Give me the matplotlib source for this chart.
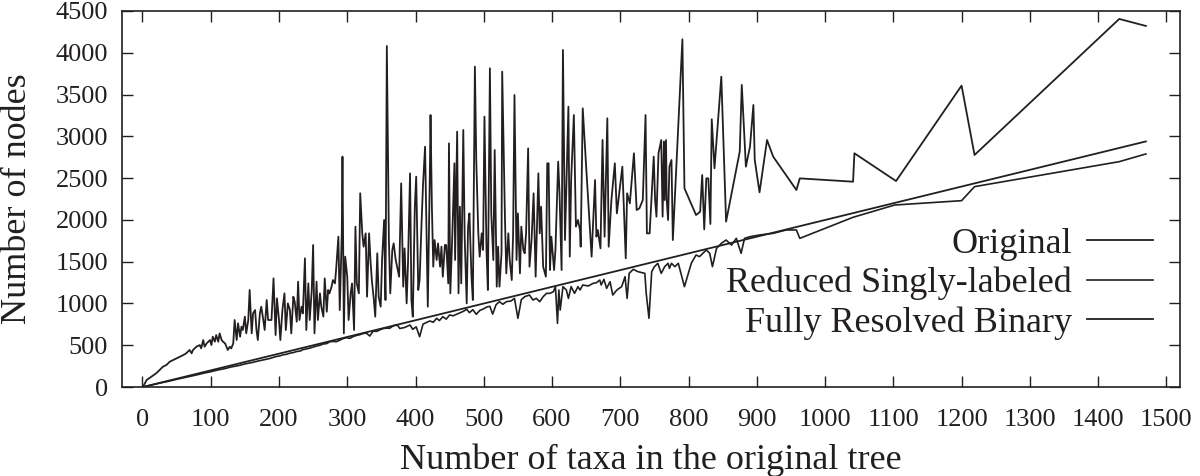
import matplotlib
matplotlib.use("Agg")
import matplotlib.pyplot as plt

plt.rcParams.update({'font.family': 'Liberation Serif', 'font.size': 19})

ink = "#231f20"

# Original trees: (taxa, nodes)
orig_x = [1, 6, 13, 20, 25, 30, 35, 40, 45, 50, 55, 60, 64, 69, 72, 74, 79, 84, 86, 89, 91, 94, 99, 101, 103, 106,
          108, 111, 113, 116, 118, 121, 123, 125, 128, 130, 133, 135, 138, 140, 143, 145, 147, 150, 152, 155, 157,
          160, 162, 165, 167, 169, 172, 174, 177, 179, 182, 184,
          189, 192, 195, 197, 200, 202, 205, 208, 210, 213, 216, 218, 221, 223, 226, 228, 230, 233, 235, 238, 240,
          243, 245, 248, 250, 252, 255, 257, 260, 262, 265, 267, 270, 272, 274, 277, 279, 282, 284, 287, 289, 292,
          293, 295, 297, 300, 302, 305, 307, 310, 312, 314, 317, 319, 322, 324, 327, 329, 332, 334, 336, 339, 341,
          344, 346, 349, 351, 354, 356, 358, 361, 363, 366, 368, 371, 373, 376,
          379, 382, 384, 387, 389, 392, 394, 396, 399, 401, 404, 406, 409, 411, 414, 416, 418, 421, 422, 424, 426,
          428, 431, 433, 436, 438, 440, 443, 445, 448, 449, 451, 454, 457, 458, 461, 463, 465, 467, 470, 472, 475,
          477, 479, 482, 484, 487, 489, 492, 494, 497, 499, 501, 504, 506, 509, 511, 514, 516, 519, 521, 523, 526,
          527, 531, 533, 536, 538, 541, 543, 545, 548, 550, 553, 555, 558, 560, 562, 565,
          567, 570, 573, 576, 580, 582, 584, 587, 591, 593, 595, 597, 599, 603, 605, 609, 611, 614, 616, 619, 624,
          626, 628, 632, 635, 638, 641, 642, 645, 650, 658, 663, 665, 667, 671, 674, 677, 681, 683, 687, 692, 695,
          703, 708, 710, 714, 720, 724, 728, 733, 737, 739, 743, 749, 751, 753, 756, 758,
          760, 762, 764, 765, 767, 768, 770, 772, 775, 777, 791, 794, 811, 817, 820, 823, 826, 829, 832, 834, 838,
          848, 855, 875, 878, 884, 890, 895, 897, 904, 915, 924, 958, 963, 1041, 1043, 1104, 1200, 1219, 1431, 1470]
orig_y = [5, 83, 123, 163, 203, 243, 263, 303, 323, 343, 363, 383, 403, 443, 403, 443, 482, 502, 462, 562, 482, 522,
          562, 502, 602, 542, 622, 542, 642, 562, 542, 522, 482, 443, 482, 462, 522, 802, 562, 762, 602, 722, 682,
          842, 642, 802, 1161, 642, 881, 921, 682, 562, 881, 961, 802, 682, 1041, 802,
          802, 1300, 622, 1061, 802, 562, 921, 1121, 682, 1001, 921, 642, 1081, 1021, 782, 1260, 802, 961, 881,
          1540, 682, 1240, 802, 1161, 1699, 642, 1260, 802, 1121, 961, 842, 1300, 901, 1161, 1121, 1201, 1280,
          1240, 1440, 1799, 921, 1839, 2757, 642, 1560, 1320, 802, 1121, 1240, 682, 1919, 1240, 1121, 2318, 1839,
          1679, 1839, 1081, 1839, 1520, 1280, 1041, 842, 1600, 1081, 961, 1520, 1999, 1041, 4081, 1759, 1121, 1640,
          1719, 1520, 1440, 1320,
          2437, 1201, 1659, 1001, 1480, 2557, 1041, 842, 2158, 2517, 1161, 1280, 1999, 2418, 2876, 1919, 961, 2557,
          3255, 2158, 1440, 1759, 1520, 1719, 1440, 1679, 1320, 1699, 1699, 1240, 2916, 1121, 1839, 2677, 1520,
          3056, 1121, 2158, 1240, 3076, 1799, 1001, 1919, 2078, 1320, 1041, 3834, 2717, 1839, 1560, 1839, 1640,
          3236, 1640, 1161, 3814, 2078, 1520, 2836, 1201, 1679, 1201, 1600, 3774, 2039, 1360, 1839, 1520, 1280,
          1839, 3495, 1520, 2078, 1360, 1919, 1640, 1600, 1839, 2856,
          1440, 1759, 2318, 1320, 2557, 1839, 2158, 1440, 1320, 2677, 2677, 1400, 1799, 1400, 1640, 2697, 2318,
          1400, 4034, 1759, 3355, 1560, 2477, 3255, 1919, 1999, 1879, 1679, 3335, 2637, 1560, 2477, 1799, 1879,
          1659, 2956, 1799, 3216, 1679, 2238, 2677, 2078, 2637, 1540, 2318, 2198, 2797, 2118, 2138, 2238, 3255,
          1839, 1839, 2757, 2238, 2039, 2797, 2876,
          2956, 2039, 2936, 2238, 2956, 2238, 1999, 2637, 2717, 1759, 4161, 2378, 2058, 2098, 2537, 1887, 2497,
          2497, 1951, 3204, 2617, 3714, 1979, 2817, 3615, 2637, 2876, 3375, 2717, 2330, 2956, 2757, 2358, 2497,
          2457, 2797, 2465, 3607, 2777, 4405, 4321]

# Reduced singly-labeled trees
red_x = [1, 10, 20, 30, 40, 50, 60, 70, 80, 90, 100, 110, 120, 130, 140, 150, 160, 170, 180,
         186, 191, 196, 201, 206, 211, 216, 221, 226, 231, 235, 240, 245, 250, 255, 260, 265, 270, 274, 279, 284,
         289, 294, 299, 304, 309, 314, 318, 323, 328, 333, 338, 343, 348, 353, 358, 362, 366, 370, 374,
         377, 384, 392, 396, 401, 406, 411, 416, 421, 426, 431, 435, 440, 445, 450, 455, 460, 465, 470, 475, 479,
         484, 489, 494, 501, 505, 509, 513, 518, 523, 528, 533, 540, 545, 550, 555, 560, 567,
         572, 577, 582, 587, 592, 597, 602, 605, 608, 610, 612, 616, 621, 624, 628, 633, 638, 641, 645, 653, 660,
         665, 670, 672, 676, 680, 685, 689, 695, 702, 707, 710, 713, 719, 726, 736, 738, 742, 746, 750, 755, 760,
         765, 770, 772, 775, 780, 785, 794, 804, 811, 816, 821, 826, 831, 835, 841, 848, 855, 863, 870, 877, 882,
         890, 904, 924, 943, 958, 963, 1041, 1102, 1200, 1219, 1431, 1470]
red_y = [1, 17, 36, 55, 72, 92, 110, 128, 146, 166, 183, 203, 219, 240, 255, 276, 292, 312, 330,
         340, 352, 365, 372, 385, 392, 405, 412, 425, 430, 448, 455, 465, 478, 490, 500, 515, 520, 540, 546, 542,
         560, 580, 590, 582, 605, 618, 625, 640, 645, 610, 670, 665, 685, 700, 705, 702, 725, 740, 735,
         700, 712, 742, 690, 720, 602, 752, 772, 790, 775, 822, 795, 842, 812, 862, 852, 870, 888, 905, 930, 890,
         925, 870, 915, 941, 960, 965, 872, 985, 1021, 990, 1021, 1030, 1061, 822, 1045, 1081, 1101,
         1041, 1061, 1021, 1081, 1121, 1121, 1141, 1201, 762, 1161, 921, 1201, 1161, 1061, 1201, 1121, 1201, 1161,
         1221, 1209, 1240, 1248, 1280, 1221, 1288, 1181, 1260, 1101, 1161, 1201, 1320, 1061, 1360, 1408, 1380,
         1360, 1121, 822, 1380, 1440, 1480, 1360, 1440, 1480, 1420, 1480, 1440, 1480, 1201, 1480, 1580, 1560,
         1600, 1640, 1600, 1440, 1659, 1719, 1759, 1699, 1779, 1600, 1779, 1799, 1819, 1839, 1879, 1879, 1779,
         2031, 2178, 2230, 2398, 2697, 2789]

# Fully resolved binary trees
bin_x = [1, 500, 1000, 1470]
bin_y = [1, 999, 1999, 2939]

fig = plt.figure(figsize=(12, 4.76), dpi=100)
ax = fig.add_axes([122 / 1200, 89 / 476, 1058 / 1200, 376 / 476])

ax.plot(orig_x, orig_y, '-', color=ink, lw=1.3, label="Original")
ax.plot(red_x, red_y, '-', color=ink, lw=1.2, label="Reduced Singly-labeled")
ax.plot(bin_x, bin_y, '-', color=ink, lw=1.3, label="Fully Resolved Binary")

ax.set_xlim(-30, 1520)
ax.set_ylim(0, 4500)
ax.set_xticks(range(0, 1501, 100))
ax.set_yticks(range(0, 4501, 500))
ax.tick_params(direction='in', top=True, right=True, length=8, width=1, color=ink,
               labelcolor=ink, labelsize=19)
ax.tick_params(axis='x', pad=16)
ax.tick_params(axis='y', pad=10)
for s in ax.spines.values():
    s.set_color(ink)
    s.set_linewidth(1.2)

ax.set_xlabel("Number of taxa in the original tree", fontsize=26, color=ink, va='center')
ax.xaxis.set_label_coords(0.5, (387 - 460) / 376)
ax.set_ylabel("Number of nodes", fontsize=26, color=ink, va='center')
ax.yaxis.set_label_coords((18 - 122) / 1058, 0.5)

leg = ax.legend(loc='lower right', bbox_to_anchor=(1153 / 1200, (476 - 340) / 476),
                bbox_transform=fig.transFigure, frameon=False, markerfirst=False,
                fontsize=26, handlelength=1.83, handletextpad=0.42, labelspacing=0.17,
                borderpad=0, borderaxespad=0)
for t in leg.get_texts():
    t.set_color(ink)

plt.savefig("out.png", dpi=100)
